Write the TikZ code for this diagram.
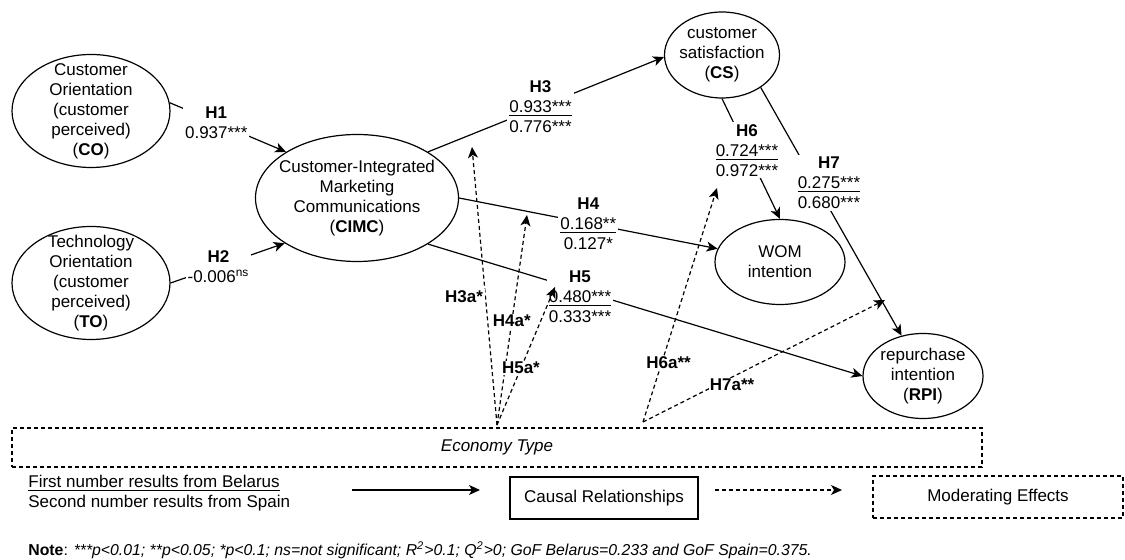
\documentclass[tikz,border=0pt]{standalone}
\usepackage{fontspec}
\setmainfont{Liberation Sans}
\usetikzlibrary{arrows.meta, shapes.geometric}

\begin{document}
\begin{tikzpicture}[x=0.5pt, y=-0.5pt,
    every node/.style={font=\fontsize{8.5}{10}\selectfont},
    construct/.style={draw, ellipse, align=center, inner sep=-30pt, line width=0.6pt},
    causal/.style={line width=0.6pt, -{Stealth[length=5.5pt, width=5pt, inset=1.5pt]}},
    dashline/.style={dash pattern=on 2pt off 1.5pt},
    moderating/.style={causal, dashline},
    coef/.style={fill=white, align=center, inner sep=1pt},
    modlabel/.style={fill=white, inner sep=0.5pt, font=\fontsize{8.5}{10}\selectfont\bfseries}]
    \useasboundingbox (0,0) rectangle (1125,560);

    % Constructs
    \node[construct, minimum width=79pt, minimum height=56.5pt] (CO) at (91,111)
        {Customer\\Orientation\\(customer\\perceived)\\(\textbf{CO})};
    \node[construct, minimum width=79pt, minimum height=56.5pt] (TO) at (91,283)
        {Technology\\Orientation\\(customer\\perceived)\\(\textbf{TO})};
    \node[construct, minimum width=101.5pt, minimum height=63.5pt] (CIMC) at (357,198)
        {Customer-Integrated\\Marketing\\Communications\\(\textbf{CIMC})};
    \node[construct, minimum width=57.5pt, minimum height=43pt] (CS) at (722,55)
        {customer\\satisfaction\\(\textbf{CS})};
    \node[construct, minimum width=65pt, minimum height=42.5pt] (WOM) at (780,262)
        {WOM\\intention};
    \node[construct, minimum width=60pt, minimum height=42.5pt] (RPI) at (923,376)
        {repurchase\\intention\\(\textbf{RPI})};

    % Moderator
    \node[draw, dashline, line width=0.6pt, minimum width=485pt, minimum height=19.5pt,
        inner sep=0pt, font=\fontsize{8.5}{10}\selectfont\itshape] (ET) at (497,447.5) {Economy Type};

    % Causal paths
    \draw[causal] (CO.6) -- node[coef, pos=0.4] (h1)
        {\textbf{H1}\\0.937***} (CIMC.147);
    \draw[causal] (TO.east) -- node[coef, pos=0.42] (h2)
        {\textbf{H2}\\-0.006\textsuperscript{ns}} (CIMC.212);
    \draw[causal] (CIMC.33) -- node[coef, pos=0.477] (h3)
        {\textbf{H3}\\\underline{0.933***}\\0.776***} (CS.182);
    \draw[causal] (CIMC.east) -- node[coef, pos=0.5] (h4)
        {\textbf{H4}\\\underline{0.168**}\\0.127*} (WOM.168);
    \draw[causal] (CIMC.-33) -- node[coef, pos=0.35, yshift=-3pt] (h5)
        {\textbf{H5}\\\underline{0.480***}\\0.333***} (RPI.west);
    \draw[causal] (CS.south) -- node[coef, pos=0.43] (h6)
        {\textbf{H6}\\\underline{0.724***}\\0.972***} (WOM.north);
    \draw[causal] (CS.-40) -- node[coef, pos=0.385, xshift=7pt] (h7)
        {\textbf{H7}\\\underline{0.275***}\\0.680***} (RPI.118);

    % Moderating effects
    \coordinate (ETa) at (497,425);
    \coordinate (ETb) at (643,422);
    \coordinate (t3a) at (472,147);
    \coordinate (t4a) at (527,215);
    \coordinate (t5a) at (555,287);
    \coordinate (t6a) at (717,188);
    \coordinate (t7a) at (885,300);
    \draw[moderating] (ETa) -- node[modlabel, pos=0.46, left, inner sep=1pt] (h3a) {H3a*} (t3a);
    \draw[moderating] (ETa) -- node[modlabel, pos=0.495] (h4a) {H4a*} (t4a);
    \draw[moderating] (ETa) -- node[modlabel, pos=0.413] (h5a) {H5a*} (t5a);
    \draw[moderating] (ETb) -- node[modlabel, pos=0.252, xshift=3.5pt] (h6a) {H6a**} (t6a);
    \draw[moderating] (ETb) -- node[modlabel, pos=0.368, yshift=-4pt] (h7a) {H7a**} (t7a);

    % Legend
    \node[anchor=west, align=left, inner sep=0pt] (key) at (28,493)
        {\underline{First number results from Belarus}\\Second number results from Spain};
    \coordinate (ca) at (352,490);
    \coordinate (cb) at (480,490);
    \draw[causal] (ca) -- (cb);
    \node[draw, line width=0.6pt, minimum width=94pt, minimum height=21pt] (causalkey) at (604,498)
        {Causal Relationships};
    \coordinate (ma) at (715,490);
    \coordinate (mb) at (842,490);
    \draw[moderating] (ma) -- (mb);
    \node[draw, dashline, line width=0.6pt, minimum width=125pt, minimum height=21pt] (modkey) at (998,497)
        {Moderating Effects};

    % Note
    \node[anchor=west, inner sep=0pt, font=\fontsize{7.9}{9}\selectfont\itshape] (note) at (28,550)
        {{\upshape\textbf{Note}:} ***p<0.01; **p<0.05; *p<0.1; ns=not significant; R\textsuperscript{2}>0.1; Q\textsuperscript{2}>0; GoF Belarus=0.233 and GoF Spain=0.375.};
\end{tikzpicture}
\end{document}
